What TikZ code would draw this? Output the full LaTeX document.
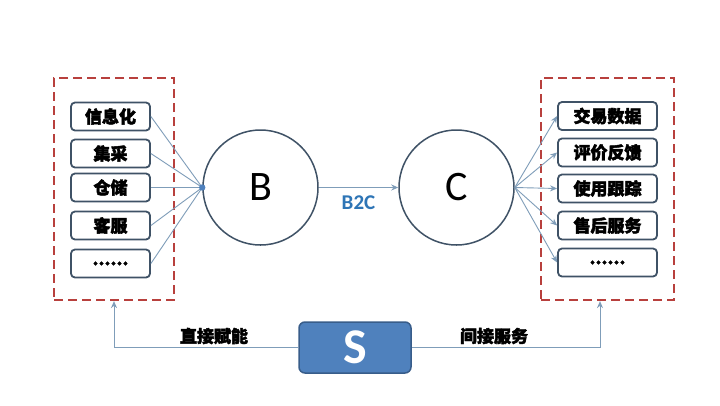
\documentclass[tikz,border=0pt]{standalone}
\usepackage{fontspec}
\setmainfont{Carlito}
\newfontfamily\cjk[FakeBold=2.5]{Noto Sans CJK SC}
\usetikzlibrary{arrows.meta}
\definecolor{boxline}{HTML}{3F5266}
\definecolor{conn}{HTML}{7F9DB9}
\definecolor{dashred}{HTML}{B8403D}
\definecolor{sfill}{HTML}{4F81BD}
\definecolor{sline}{HTML}{385D8A}
\definecolor{btwoc}{HTML}{2E75B6}
\tikzset{
  item/.style={draw=boxline, line width=1.8pt, rounded corners=4pt, fill=white,
    minimum width=79pt, minimum height=28pt, inner sep=0pt,
    font=\cjk\bfseries\fontsize{17}{18}\selectfont},
  ritem/.style={item, minimum width=99pt},
  dashbox/.style={draw=dashred, line width=2.2pt, dash pattern=on 9pt off 5pt, minimum height=222pt, inner sep=0pt},
  circ/.style={circle, draw=boxline, line width=1.5pt, minimum size=115pt, inner sep=0pt, font=\fontsize{42}{44}\selectfont},
  link/.style={draw=conn, line width=0.9pt},
  arr/.style={link, -{Stealth[length=7pt,width=6pt]}},
  lbl/.style={font=\cjk\bfseries\fontsize{17}{18}\selectfont}
}
\begin{document}
\begin{tikzpicture}[x=1pt,y=-1pt]
\useasboundingbox (0,0) rectangle (720,405);
\fill[white] (0,0) rectangle (720,405);
% dashed groups
\node[dashbox, minimum width=120pt] (Lbox) at (114,189) {};
\node[dashbox, minimum width=133pt] (Rbox) at (607.5,189) {};
% left items
\node[item] (l1) at (110.5,116.5) {信息化};
\node[item] (l2) at (110.5,153.5) {集采};
\node[item] (l3) at (110.5,187.5) {仓储};
\node[item] (l4) at (110.5,225.5) {客服};
\node[item] (l5) at (110.5,263.5) {......};
% right items
\node[ritem] (r1) at (607.5,116) {交易数据};
\node[ritem] (r2) at (607.5,152.5) {评价反馈};
\node[ritem] (r3) at (607.5,188.5) {使用跟踪};
\node[ritem] (r4) at (607.5,225.5) {售后服务};
\node[ritem] (r5) at (607.5,262.5) {......};
% circles
\node[circ] (B) at (260.5,187.5) {B};
\node[circ] (C) at (456.5,187.5) {C};
% left fan
\foreach \i in {1,...,5} \draw[link] (l\i.east) -- (B.west);
\fill[sfill] (B.west) circle (3.2pt);
% right fan
\foreach \i in {1,...,5} \draw[arr] (C.east) -- (r\i.west);
% B2C
\draw[arr] (B.east) -- (C.west) node[midway, below=4pt, text=btwoc, font=\bfseries\fontsize{21}{22}\selectfont] (b2c) {B2C};
% S
\node[draw=sline, line width=1.5pt, fill=sfill, rounded corners=6pt, minimum width=112pt, minimum height=51pt, inner sep=0pt,
  text=white, font=\bfseries\fontsize{50}{50}\selectfont] (S) at (355,347.5) {S};
\draw[arr] (S.west) -| (Lbox.south);
\draw[arr] (S.east) -| ([xshift=-7.5pt]Rbox.south);
\node[lbl] (t1) at (214,336) {直接赋能};
\node[lbl] (t2) at (494,336) {间接服务};
\end{tikzpicture}
\end{document}
